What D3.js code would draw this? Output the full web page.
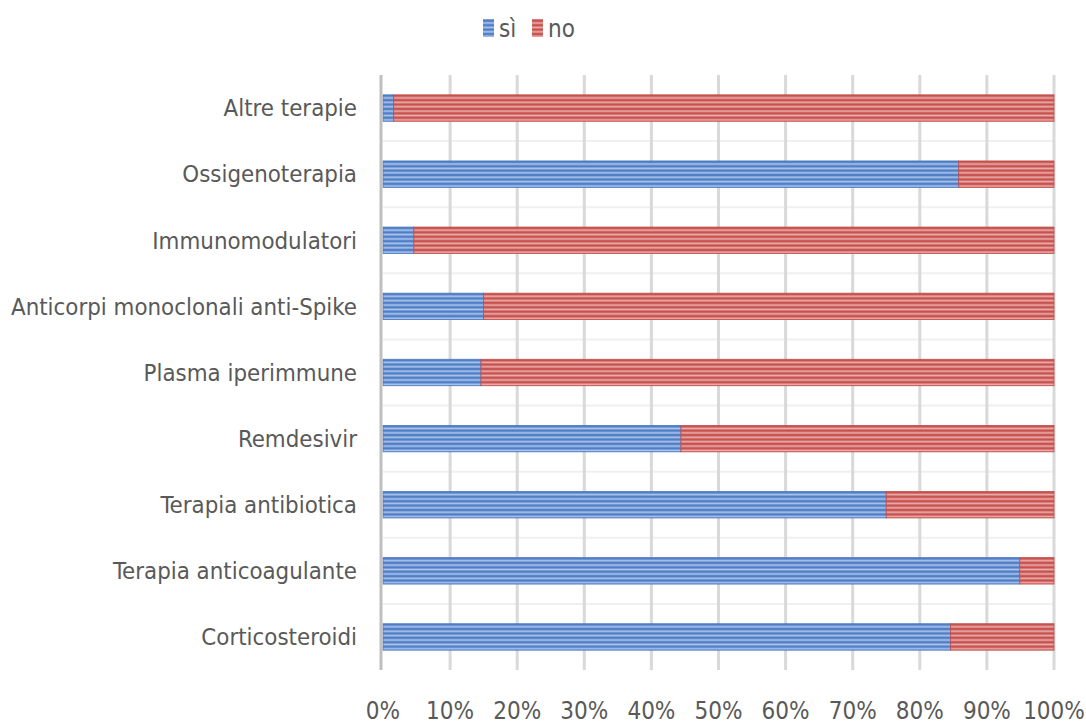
<!DOCTYPE html>
<html>
<head>
<meta charset="utf-8">
<script src="https://cdn.jsdelivr.net/npm/d3@7"></script>
<style>
  body { margin: 0; background: #fff; }
  text { font-family: "DejaVu Sans Condensed", "Roboto", sans-serif; fill: #595959; }
</style>
</head>
<body>
<svg id="chart" width="1086" height="724"></svg>
<script>
// categories top to bottom
const categories = ["Altre terapie", "Ossigenoterapia", "Immunomodulatori",
  "Anticorpi monoclonali anti-Spike", "Plasma iperimmune", "Remdesivir",
  "Terapia antibiotica", "Terapia anticoagulante", "Corticosteroidi"];
const siValues = [1.6, 85.8, 4.6, 15.0, 14.6, 44.4, 75.0, 94.9, 84.6];
const noValues = siValues.map(v => 100 - v);
const seriesNames = ["sì", "no"];
const xTicks = [0, 10, 20, 30, 40, 50, 60, 70, 80, 90, 100];

const svg = d3.select("#chart");
const margin = {left: 383, right: 32, top: 75, bottom: 54};
const W = 1086, H = 724;

const x = d3.scaleLinear().domain([0, 100]).range([margin.left, W - margin.right]);
const y = d3.scaleBand().domain(categories).range([margin.top, H - margin.bottom]).paddingInner(0.6).paddingOuter(0.3);

// striped patterns
const defs = svg.append("defs");
const stripe = y.bandwidth() / 6;
function makePattern(id, dark, light) {
  let p = defs.append("pattern").attr("id", id)
    .attr("patternUnits", "userSpaceOnUse")
    .attr("y", y(categories[0]))
    .attr("width", 8).attr("height", stripe);
  p.append("rect").attr("width", 8).attr("height", stripe).attr("fill", dark);
  p.append("rect").attr("y", stripe * 0.5).attr("width", 8).attr("height", stripe * 0.4).attr("fill", light);
}
makePattern("patSi", "#4f7fc8", "#aec4e8");
makePattern("patNo", "#c9524f", "#e8aeac");
const fills = {"sì": "url(#patSi)", "no": "url(#patNo)"};
const edges = {"sì": "#4a78c0", "no": "#c24c4a"};

// horizontal separators between bands
const plotTop = margin.top, plotBottom = H - margin.bottom;
svg.append("g").selectAll("line")
  .data(d3.range(1, categories.length))
  .enter().append("line")
  .attr("x1", x(0)).attr("x2", x(100))
  .attr("y1", d => plotTop + d * (plotBottom - plotTop) / categories.length)
  .attr("y2", d => plotTop + d * (plotBottom - plotTop) / categories.length)
  .attr("stroke", "#f0f0f0").attr("stroke-width", 2);

// vertical gridlines
svg.append("g").selectAll("line")
  .data(xTicks.slice(1))
  .enter().append("line")
  .attr("x1", d => x(d)).attr("x2", d => x(d))
  .attr("y1", plotTop).attr("y2", plotBottom)
  .attr("stroke", "#d9d9d9").attr("stroke-width", 3);

// bars
const stacked = categories.map((c, i) => ({name: c, "sì": siValues[i], "no": noValues[i]}));
const stack = d3.stack().keys(seriesNames)(stacked);
const layer = svg.append("g").selectAll("g")
  .data(stack)
  .enter().append("g");
layer.selectAll("rect")
  .data(d => d.map(v => ({key: d.key, v: v})))
  .enter().append("rect")
  .attr("x", d => x(d.v[0]))
  .attr("y", d => y(d.v.data.name))
  .attr("width", d => x(d.v[1]) - x(d.v[0]))
  .attr("height", y.bandwidth())
  .attr("fill", d => fills[d.key])
  .attr("stroke", d => edges[d.key])
  .attr("stroke-width", 0.8);

// left axis line
svg.append("line")
  .attr("x1", x(0) - 2).attr("x2", x(0) - 2)
  .attr("y1", plotTop).attr("y2", plotBottom)
  .attr("stroke", "#bfbfbf").attr("stroke-width", 3);

// category labels
svg.append("g").selectAll("text")
  .data(categories)
  .enter().append("text")
  .attr("x", 357)
  .attr("y", d => y(d) + y.bandwidth() / 2)
  .attr("dy", "0.35em")
  .attr("text-anchor", "end")
  .style("font-size", "23.8px")
  .text(d => d);

// x tick labels
svg.append("g").selectAll("text")
  .data(xTicks)
  .enter().append("text")
  .attr("x", d => x(d))
  .attr("y", 719)
  .attr("text-anchor", "middle")
  .style("font-size", "24px")
  .text(d => d + "%");

// legend
const legend = svg.append("g");
const legendX = [483, 532];
seriesNames.forEach((s, i) => {
  legend.append("rect")
    .attr("x", legendX[i]).attr("y", 19)
    .attr("width", 11).attr("height", 18)
    .attr("fill", fills[s]);
  legend.append("text")
    .attr("x", legendX[i] + 16).attr("y", 37)
    .style("font-size", "24px")
    .text(s);
});
</script>
</body>
</html>
